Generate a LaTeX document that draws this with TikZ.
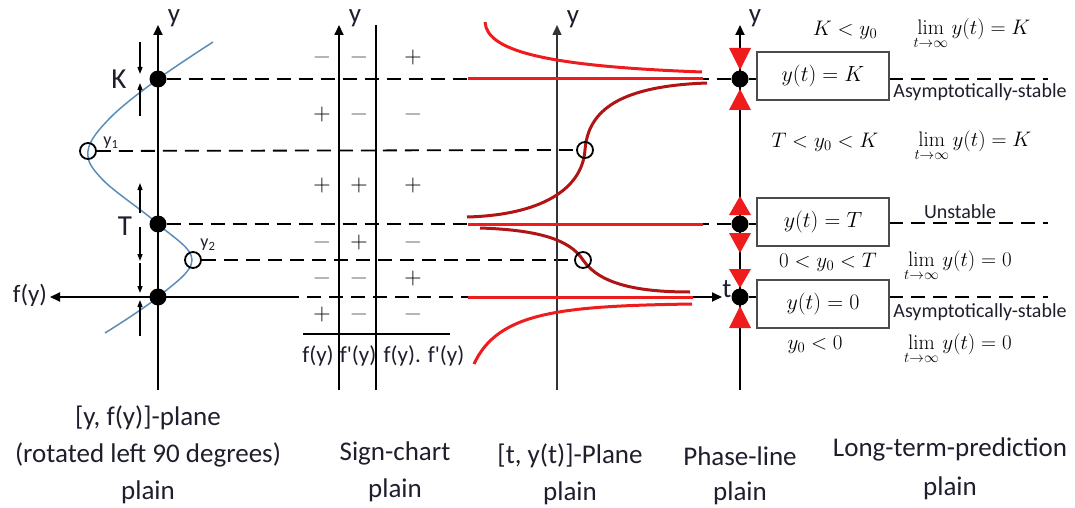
\RequirePackage{fix-cm}
\documentclass[tikz,border=0pt]{standalone}
\usepackage{amsmath}
\usepackage[no-math]{fontspec}
\setmainfont{Carlito}
\usetikzlibrary{arrows.meta}
\definecolor{cblue}{HTML}{5B8DB8}
\definecolor{cred}{HTML}{EE1C1C}
\definecolor{cdred}{HTML}{B01414}
\definecolor{ink}{HTML}{1E1E2C}
\pgfdeclarelayer{bg}
\pgfsetlayers{bg,main}
\begin{document}
\begin{tikzpicture}[x=1pt,y=-1pt,
  axis/.style={line width=1.8pt,-{Triangle[length=10pt,width=9pt]}},
  vline/.style={line width=1.4pt},
  dline/.style={line width=1.8pt,dash pattern=on 14pt off 8pt},
  bigdot/.style={circle,fill=black,inner sep=0pt,minimum size=17pt},
  ring/.style={circle,draw,line width=1.8pt,inner sep=0pt,minimum size=16pt},
  redc/.style={line width=3pt,cred},
  dredc/.style={line width=3pt,cdred},
  tinyarr/.style={line width=1.2pt,-{Triangle[length=7pt,width=5pt]}},
  lab/.style={font=\fontsize{27}{30}\selectfont,text=ink,inner sep=0pt},
  axl/.style={font=\fontsize{27}{30}\selectfont,text=ink,inner sep=0pt},
  sgn/.style={font=\fontsize{24}{26}\selectfont,inner sep=0pt},
  mth/.style={font=\fontsize{21}{24}\selectfont,inner sep=0pt},
  stab/.style={font=\fontsize{20}{22}\selectfont,text=ink,inner sep=0pt},
  eqbox/.style={draw=black!70,line width=1.2pt,minimum width=132pt,minimum height=48pt,font=\fontsize{22}{24}\selectfont},
  tri/.style={fill=cred}
]
\useasboundingbox (0,0) rectangle (1075,508);

% ---------- named points ----------
\node[bigdot] (K1) at (158,79) {};
\node[bigdot] (T1) at (158,224) {};
\node[bigdot] (O1) at (158,297) {};
\node[ring] (y1c) at (88,151) {};
\node[ring] (y2c) at (193,260) {};
\node[ring] (c1) at (585,150) {};
\node[ring] (c2) at (583,260) {};
\node[bigdot] (KP) at (740,79) {};
\node[bigdot] (TP) at (740,224) {};
\node[bigdot] (OP) at (740,297) {};
\node[eqbox] (KB) at (823,76) {$y(t)=K$};
\node[eqbox] (TB) at (823,222) {$y(t)=T$};
\node[eqbox] (OB) at (823,304) {$y(t)=0$};

\coordinate (ab1) at (158,390); \coordinate (at1) at (158,25);
\coordinate (ab2) at (339,390); \coordinate (at2) at (339,25);
\coordinate (vb2) at (376,390); \coordinate (vt2) at (376,25);
\coordinate (hl2) at (303,334); \coordinate (hr2) at (450,334);
\coordinate (ab3) at (557,390); \coordinate (at3) at (557,25);
\coordinate (ab4) at (740,390); \coordinate (at4) at (740,25);
\coordinate (fy) at (50,297); \coordinate (s0) at (285,297);
\coordinate (r0) at (468,297); \coordinate (re0) at (693,297);
\coordinate (tt) at (722,297);
\coordinate (rK) at (468,79); \coordinate (reK) at (703,79);
\coordinate (rT) at (468,224); \coordinate (reT) at (703,224);
\coordinate (KE) at (889,79); \coordinate (KR) at (1048,79);
\coordinate (TE) at (889,223); \coordinate (TR) at (1048,223);
\coordinate (OE) at (889,297); \coordinate (OR) at (1048,297);

\begin{pgfonlayer}{bg}
% dashed levels
\draw[dline] (K1) -- (KP);
\draw[dline] (y1c) -- (c1);
\draw[dline] (T1) -- (TP);
\draw[dline] (y2c) -- (c2);
\draw[dline] (s0) -- (r0);
\draw[dline] (KE) -- (KR);
\draw[dline] (TE) -- (TR);
\draw[dline] (OE) -- (OR);
% axes
\draw[axis] (ab1) -- (at1);
\draw[axis] (s0) -- (fy);
\draw[axis] (ab2) -- (at2);
\draw[vline] (vb2) -- (vt2);
\draw[vline] (hl2) -- (hr2);
\draw[axis,line width=1.5pt,black!80] (ab3) -- (at3);
\draw[axis] (ab4) -- (at4);
\draw[axis] (re0) -- (tt);
% links dot-box
\draw[vline] (KP.east) -- (KP.east -| KB.west);
\draw[vline] (TP.east) -- (TP.east -| TB.west);
\draw[vline] (OP.east) -- (OP.east -| OB.west);
% red triangles
\fill[tri] (729,48) -- (751,48) -- (740,70) -- cycle;
\fill[tri] (729,110) -- (751,110) -- (740,89) -- cycle;
\fill[tri] (729,215) -- (751,215) -- (740,196) -- cycle;
\fill[tri] (729,233) -- (751,233) -- (740,253) -- cycle;
\fill[tri] (729,269) -- (751,269) -- (740,288) -- cycle;
\fill[tri] (729,328) -- (751,328) -- (740,306) -- cycle;
% solution curves
\draw[redc] (rK) -- (reK);
\draw[redc] (rT) -- (reT);
\draw[redc] (r0) -- (re0);
\draw[redc] (485,22) .. controls (487,50) and (540,66) .. (702,72);
\draw[dredc] (707,83) .. controls (620,86) and (588,110) .. (c1.center)
  .. controls (582,190) and (540,215) .. (467,217);
\draw[dredc] (480,228) .. controls (540,230) and (570,240) .. (c2.center)
  .. controls (600,285) and (640,292) .. (690,292);
\draw[redc] (692,304) .. controls (560,306) and (498,312) .. (474,364);
% blue f(y) curve
\draw[cblue,line width=1.5pt] plot[smooth,tension=0.6] coordinates
  {(213,42) (158,79) (110,118) (88,151) (103,180) (158,224) (192,260) (158,297) (105,333)};
% small arrows
\draw[tinyarr] (140,42) -- (140,74);
\draw[tinyarr] (140,116) -- (140,83);
\draw[tinyarr] (140,213) -- (140,183);
\draw[tinyarr] (140,227) -- (140,261);
\draw[tinyarr] (140,263) -- (140,293);
\draw[tinyarr] (140,336) -- (140,300);
\end{pgfonlayer}

% ---------- labels ----------
\node[axl] (ly1) at (174,18) {y};
\node[axl] (ly2) at (355,18) {y};
\node[axl] (ly3) at (573,19) {y};
\node[axl] (ly4) at (755,18) {y};
\node[axl] (lt) at (727,289) {t};
\node[lab,font=\fontsize{29}{30}\selectfont] (lK) at (119,79) {K};
\node[lab,font=\fontsize{29}{30}\selectfont] (lT) at (125,226) {T};
\node[lab,font=\fontsize{18}{20}\selectfont] (ly1l) at (111,143) {y\textsubscript{1}};
\node[lab,font=\fontsize{18}{20}\selectfont] (ly2l) at (208,245) {y\textsubscript{2}};
\node[lab,font=\fontsize{25}{27}\selectfont] (lfy) at (30,295) {f(y)};

% sign chart
\node[sgn,text=black!60] at (322,58) {$-$};
\node[sgn,text=black!60] at (359,58) {$-$};
\node[sgn] at (413,58) {$+$};
\node[sgn] at (322,115) {$+$};
\node[sgn,text=black!60] at (359,115) {$-$};
\node[sgn,text=black!60] at (413,115) {$-$};
\node[sgn] at (322,186) {$+$};
\node[sgn] at (359,186) {$+$};
\node[sgn] at (413,186) {$+$};
\node[sgn,text=black!60] at (322,242) {$-$};
\node[sgn] at (359,242) {$+$};
\node[sgn,text=black!60] at (413,242) {$-$};
\node[sgn,text=black!60] at (322,278) {$-$};
\node[sgn,text=black!60] at (359,278) {$-$};
\node[sgn] at (413,278) {$+$};
\node[sgn] at (322,314) {$+$};
\node[sgn,text=black!60] at (359,314) {$-$};
\node[sgn,text=black!60] at (413,314) {$-$};
\node[lab,font=\fontsize{23}{25}\selectfont] at (318,356) {f(y)};
\node[lab,font=\fontsize{23}{25}\selectfont] at (358,356) {f\textquotesingle(y)};
\node[lab,font=\fontsize{23}{25}\selectfont] at (424,356) {f(y). f\textquotesingle(y)};

% long-term prediction
\node[mth] at (845,30) {$K<y_0$};
\node[mth] at (972,34) {$\lim\limits_{t\to\infty} y(t)=K$};
\node[mth] at (825,142) {$T<y_0<K$};
\node[mth] at (973,146) {$\lim\limits_{t\to\infty} y(t)=K$};
\node[mth] at (828,262) {$0<y_0<T$};
\node[mth] at (958,266) {$\lim\limits_{t\to\infty} y(t)=0$};
\node[mth] at (815,345) {$y_0<0$};
\node[mth] at (958,349) {$\lim\limits_{t\to\infty} y(t)=0$};
\node[stab] at (980,92) {Asymptotically-stable};
\node[stab] at (960,212) {Unstable};
\node[stab] at (980,312) {Asymptotically-stable};

% bottom titles
\node[lab] at (148,418) {[y, f(y)]-plane};
\node[lab] at (148,455) {(rotated left 90 degrees)};
\node[lab] at (148,492) {plain};
\node[lab] at (395,453) {Sign-chart};
\node[lab] at (395,490) {plain};
\node[lab] at (570,456) {[t, y(t)]-Plane};
\node[lab] at (570,493) {plain};
\node[lab] at (740,456) {Phase-line};
\node[lab] at (740,493) {plain};
\node[lab] at (950,449) {Long-term-prediction};
\node[lab] at (950,488) {plain};
\end{tikzpicture}
\end{document}
